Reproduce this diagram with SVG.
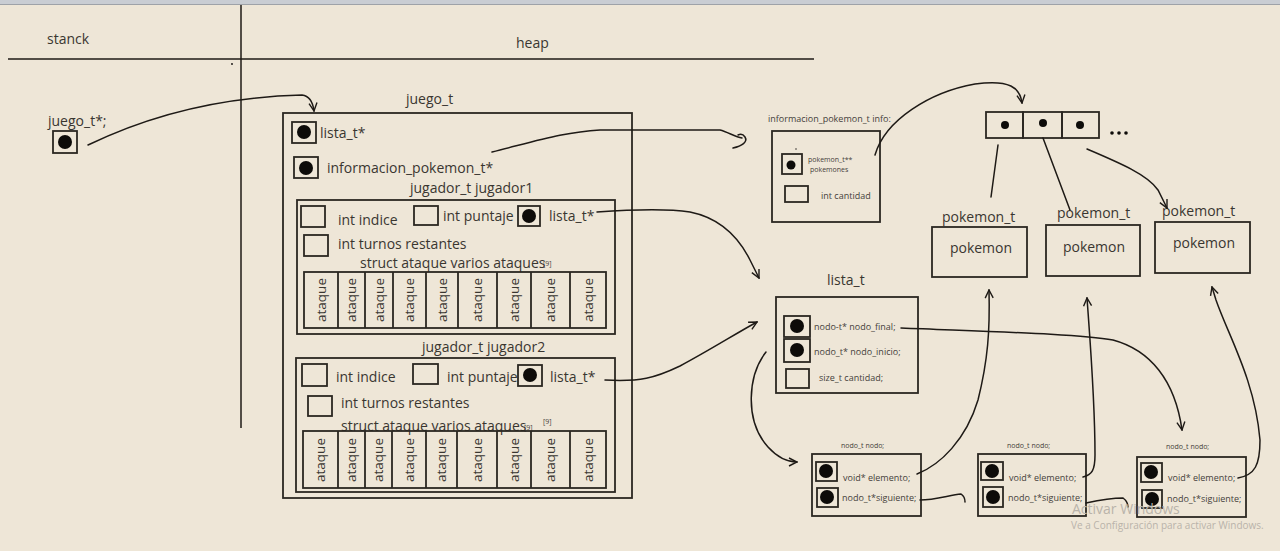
<svg xmlns="http://www.w3.org/2000/svg" width="1280" height="551" viewBox="0 0 1280 551">
<defs>
<style>
.b{fill:none;stroke:#2b2722;stroke-width:1.8}
.c{fill:none;stroke:#1e1a16;stroke-width:1.5;stroke-linecap:round}
.d{fill:#0d0b09}
.t{font-family:"Open Sans","Liberation Sans",sans-serif;fill:#3a3631;font-size:14px}
.s{font-family:"Open Sans","Liberation Sans",sans-serif;fill:#45413b;font-size:9px}
.xs{font-family:"Open Sans","Liberation Sans",sans-serif;fill:#45413b;font-size:7px}
.a{font-family:"Open Sans","Liberation Sans",sans-serif;fill:#3a3631;font-size:13.5px}
.w{font-family:"Open Sans","Liberation Sans",sans-serif;fill:#b9b3aa}
</style>
<marker id="v" viewBox="0 0 10 10" refX="9" refY="5" markerWidth="10" markerHeight="10" markerUnits="userSpaceOnUse" orient="auto">
<path d="M1,1 L9,5 L1,9" fill="none" stroke="#1e1a16" stroke-width="1.4"/>
</marker>
</defs>
<rect width="1280" height="551" fill="#eee6d7"/>
<rect width="1280" height="4" fill="#c9cdd3"/>
<line x1="0" y1="4.5" x2="1280" y2="4.5" stroke="#9ea2a8" stroke-width="1"/>

<g id="memory-axes">
<line x1="241" y1="5" x2="241" y2="428" stroke="#1e1a16" stroke-width="1.5"/>
<line x1="8" y1="59" x2="814" y2="59" stroke="#1e1a16" stroke-width="1.5"/>
<circle cx="232" cy="64" r="0.9" class="d"/>
<text class="t" x="47" y="44">stanck</text>
<text class="t" x="516" y="48">heap</text>
</g>

<g id="stack-juego-ptr">
<text class="t" x="48" y="126">juego_t*;</text>
<rect class="b" x="53" y="131" width="24" height="22"/>
<circle class="d" cx="65" cy="142" r="7"/>
</g>

<g id="juego_t">
<text class="t" x="406" y="104">juego_t</text>
<rect class="b" x="283" y="113" width="349" height="385"/>
<rect class="b" x="292" y="122" width="24" height="21"/>
<circle class="d" cx="304" cy="132" r="7"/>
<text class="t" x="320" y="138">lista_t*</text>
<rect class="b" x="294" y="157" width="24" height="21"/>
<circle class="d" cx="306" cy="168" r="7"/>
<text class="t" x="327" y="173">informacion_pokemon_t*</text>
</g>

<g id="jugador1">
<text class="t" x="410" y="193">jugador_t jugador1</text>
<rect class="b" x="297" y="200" width="318" height="134"/>
<rect class="b" x="301" y="206" width="24" height="21"/>
<text class="t" x="338" y="225">int indice</text>
<rect class="b" x="414" y="206" width="24" height="19"/>
<text class="t" x="443" y="221">int puntaje</text>
<rect class="b" x="518" y="206" width="22" height="20"/>
<circle class="d" cx="529" cy="216" r="7"/>
<text class="t" x="549" y="221">lista_t*</text>
<rect class="b" x="304" y="235" width="24" height="21"/>
<text class="t" x="338" y="249">int turnos restantes</text>
<text class="t" x="360" y="268">struct ataque varios ataques</text>
<text class="xs" x="543" y="266">[9]</text>
<rect class="b" x="304" y="272" width="302" height="56"/>
<path class="b" d="M338,272V328M365,272V328M393,272V328M426,272V328M458,272V328M497,272V328M531,272V328M570,272V328"/>
<g class="a" text-anchor="middle">
<text transform="translate(326,300) rotate(-90)">ataque</text>
<text transform="translate(356,300) rotate(-90)">ataque</text>
<text transform="translate(384,300) rotate(-90)">ataque</text>
<text transform="translate(414,300) rotate(-90)">ataque</text>
<text transform="translate(447,300) rotate(-90)">ataque</text>
<text transform="translate(482,300) rotate(-90)">ataque</text>
<text transform="translate(519,300) rotate(-90)">ataque</text>
<text transform="translate(555,300) rotate(-90)">ataque</text>
<text transform="translate(593,300) rotate(-90)">ataque</text>
</g>
</g>

<g id="jugador2">
<text class="t" x="422" y="352">jugador_t jugador2</text>
<rect class="b" x="296" y="358" width="319" height="134"/>
<rect class="b" x="302" y="364" width="25" height="22"/>
<text class="t" x="336" y="382">int indice</text>
<rect class="b" x="413" y="364" width="25" height="20"/>
<text class="t" x="447" y="382">int puntaje</text>
<rect class="b" x="518" y="365" width="24" height="21"/>
<circle class="d" cx="530" cy="375" r="7"/>
<text class="t" x="550" y="382">lista_t*</text>
<rect class="b" x="308" y="396" width="24" height="20"/>
<text class="t" x="341" y="408">int turnos restantes</text>
<text class="t" x="341" y="431">struct ataque varios ataques</text>
<text class="xs" x="524" y="430">[9]</text>
<text class="xs" x="543" y="424">[9]</text>
<rect class="b" x="303" y="431" width="303" height="57"/>
<path class="b" d="M338,431V488M365,431V488M392,431V488M426,431V488M457,431V488M497,431V488M531,431V488M570,431V488"/>
<g class="a" text-anchor="middle">
<text transform="translate(325,460) rotate(-90)">ataque</text>
<text transform="translate(356,460) rotate(-90)">ataque</text>
<text transform="translate(383,460) rotate(-90)">ataque</text>
<text transform="translate(414,460) rotate(-90)">ataque</text>
<text transform="translate(446,460) rotate(-90)">ataque</text>
<text transform="translate(482,460) rotate(-90)">ataque</text>
<text transform="translate(519,460) rotate(-90)">ataque</text>
<text transform="translate(555,460) rotate(-90)">ataque</text>
<text transform="translate(593,460) rotate(-90)">ataque</text>
</g>
</g>

<g id="informacion_pokemon_t">
<text class="s" x="768" y="122">informacion_pokemon_t info:</text>
<rect class="b" x="772" y="131" width="108" height="91"/>
<circle class="d" cx="796" cy="149" r="0.7"/>
<rect class="b" x="782" y="154" width="20" height="20"/>
<circle class="d" cx="791" cy="165" r="4.5"/>
<text class="xs" x="808" y="162">pokemon_t**</text>
<text class="xs" x="810" y="172">pokemones</text>
<rect class="b" x="785" y="186" width="23" height="16"/>
<text class="s" x="821" y="199">int cantidad</text>
</g>

<g id="pokemones-array">
<rect class="b" x="986" y="112" width="37" height="26"/>
<rect class="b" x="1023" y="112" width="39" height="26"/>
<rect class="b" x="1062" y="112" width="37" height="26"/>
<circle class="d" cx="1005" cy="125" r="4"/>
<circle class="d" cx="1043" cy="123" r="4"/>
<circle class="d" cx="1080" cy="125" r="4"/>
<circle class="d" cx="1112" cy="133" r="1.8"/>
<circle class="d" cx="1119" cy="133" r="1.8"/>
<circle class="d" cx="1126" cy="133" r="1.8"/>
</g>

<g id="pokemon1">
<text class="t" x="942" y="222">pokemon_t</text>
<rect class="b" x="932" y="227" width="95" height="50"/>
<text class="t" x="981" y="253" text-anchor="middle">pokemon</text>
</g>
<g id="pokemon2">
<text class="t" x="1057" y="218">pokemon_t</text>
<rect class="b" x="1046" y="225" width="94" height="51"/>
<text class="t" x="1094" y="252" text-anchor="middle">pokemon</text>
</g>
<g id="pokemon3">
<text class="t" x="1162" y="216">pokemon_t</text>
<rect class="b" x="1155" y="222" width="95" height="51"/>
<text class="t" x="1204" y="248" text-anchor="middle">pokemon</text>
</g>

<g id="lista_t">
<text class="t" x="827" y="285" font-size="15">lista_t</text>
<rect class="b" x="776" y="297" width="142" height="96"/>
<rect class="b" x="784" y="316" width="26" height="21"/>
<circle class="d" cx="797" cy="326" r="7"/>
<text class="s" x="814" y="330">nodo-t* nodo_final;</text>
<rect class="b" x="784" y="339" width="26" height="23"/>
<circle class="d" cx="797" cy="350" r="7"/>
<text class="s" x="814" y="355">nodo_t* nodo_inicio;</text>
<rect class="b" x="786" y="369" width="23" height="19"/>
<text class="s" x="819" y="381">size_t cantidad;</text>
</g>

<g id="nodo1">
<text class="xs" x="841" y="448">nodo_t nodo;</text>
<rect class="b" x="812" y="454" width="109" height="62"/>
<rect class="b" x="816" y="462" width="21" height="19"/>
<circle class="d" cx="826" cy="471" r="7"/>
<text class="s" x="843" y="481">void* elemento;</text>
<rect class="b" x="817" y="488" width="21" height="19"/>
<circle class="d" cx="827" cy="497" r="7"/>
<text class="s" x="842" y="501">nodo_t*siguiente;</text>
</g>
<g id="nodo2">
<text class="xs" x="1007" y="448">nodo_t nodo;</text>
<rect class="b" x="978" y="454" width="108" height="62"/>
<rect class="b" x="981" y="462" width="22" height="18"/>
<circle class="d" cx="992" cy="471" r="7"/>
<text class="s" x="1009" y="481">void* elemento;</text>
<rect class="b" x="983" y="487" width="20" height="20"/>
<circle class="d" cx="993" cy="497" r="7"/>
<text class="s" x="1008" y="501">nodo_t*siguiente;</text>
</g>
<g id="nodo3">
<text class="xs" x="1166" y="449">nodo_t nodo;</text>
<rect class="b" x="1137" y="457" width="109" height="60"/>
<rect class="b" x="1141" y="463" width="21" height="19"/>
<circle class="d" cx="1151" cy="472" r="7"/>
<text class="s" x="1168" y="481">void* elemento;</text>
<rect class="b" x="1142" y="490" width="20" height="18"/>
<circle class="d" cx="1152" cy="499" r="7"/>
<text class="s" x="1167" y="502">nodo_t*siguiente;</text>
</g>

<g id="connectors">
<path class="c" marker-end="url(#v)" d="M88,145 C150,115 220,97 302,95 C310,96 313,103 314,111"/>
<path class="c" d="M492,152 C540,140 565,132 600,130 L720,130 C728,132 735,137 742,138"/>
<path class="c" d="M733,148 C742,146 748,142 745,137 C743,134 740,134 738,135"/>
<path class="c" marker-end="url(#v)" d="M875,155 C885,120 930,92 975,84 C1010,79 1020,88 1022,103"/>
<path class="c" marker-end="url(#v)" d="M597,212 C640,209 670,209 690,212 C720,218 738,236 750,260 L759,278"/>
<path class="c" marker-end="url(#v)" d="M605,380 C640,382 655,378 680,366 C710,350 735,334 757,322"/>
<path class="c" d="M998,145 L991,197"/>
<path class="c" d="M1043,138 L1070,210"/>
<path class="c" marker-end="url(#v)" d="M1087,149 C1120,163 1148,175 1158,190 L1167,208"/>
<path class="c" marker-end="url(#v)" d="M901,328 C1000,332 1080,334 1113,340 C1150,350 1175,380 1182,430"/>
<path class="c" marker-end="url(#v)" d="M766,352 C748,375 744,420 768,447 C778,458 788,462 797,462"/>
<path class="c" marker-end="url(#v)" d="M917,474 C940,465 966,440 978,400 C988,360 990,330 989,290"/>
<path class="c" marker-end="url(#v)" d="M1083,477 C1092,475 1095,470 1095,455 C1095,400 1090,340 1087,298"/>
<path class="c" marker-end="url(#v)" d="M1238,478 C1255,475 1260,465 1260,440 C1255,380 1228,335 1216,300 L1212,287"/>
<path class="c" d="M920,500 C935,500 950,495 961,494 C964,496 965,499 965,502"/>
<path class="c" d="M1086,503 C1100,500 1112,498 1123,498 C1127,501 1128,504 1128,507"/>
</g>

<g id="watermark">
<text class="w" x="1072" y="514" font-size="14">Activar Windows</text>
<text class="w" x="1071" y="529" font-size="10">Ve a Configuración para activar Windows.</text>
</g>
</svg>
